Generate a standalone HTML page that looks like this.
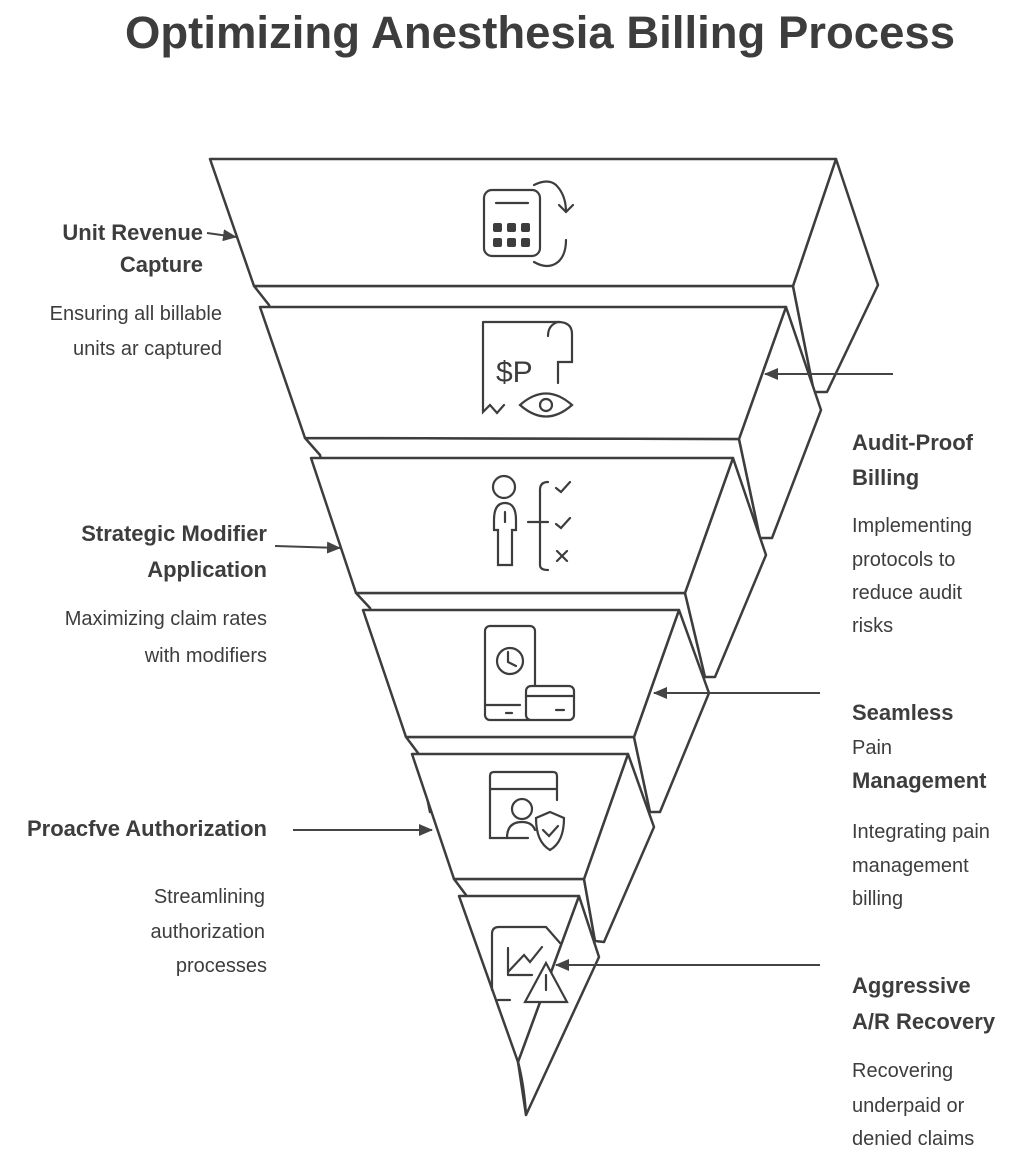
<!DOCTYPE html>
<html><head><meta charset="utf-8"><style>
body{margin:0;background:#fff;}
svg{display:block}
text{font-family:"Liberation Sans",sans-serif;fill:#3d3d3d}
.b{font-weight:bold;font-size:22px}
.n{font-size:20px}
</style></head><body>
<svg width="1024" height="1160" viewBox="0 0 1024 1160">
<defs><marker id="a" markerWidth="14" markerHeight="12" refX="13" refY="6" orient="auto" markerUnits="userSpaceOnUse"><path d="M0,0 L14,6 L0,12 z" fill="#444"/></marker></defs>
<text x="540" y="48" text-anchor="middle" font-size="45" font-weight="bold" fill="#444" textLength="830" lengthAdjust="spacingAndGlyphs">Optimizing Anesthesia Billing Process</text>
<g fill="#fff" stroke="#3d3d3d" stroke-width="2.5" stroke-linejoin="round">
<polygon points="254,286 793,286 814,392 300,392 269,305"/>
<polygon points="836,159 878,285 827,392 814,392 793,286"/>
<polygon points="210,159 836,159 793,286 254,286"/>
<polygon points="305,438 739,439 760,538 340,538 320,455"/>
<polygon points="786,307 821,410 772,538 760,538 739,439"/>
<polygon points="260,307 786,307 739,439 305,438"/>
<polygon points="356,593 685,593 705,677 390,677 370,608"/>
<polygon points="733,458 766,555 715,677 705,677 685,593"/>
<polygon points="311,458 733,458 685,593 356,593"/>
<polygon points="406,737 634,737 650,812 430,812 418,753"/>
<polygon points="679,610 709,693 660,812 650,812 634,737"/>
<polygon points="363,610 679,610 634,737 406,737"/>
<polygon points="454,879 584,879 595,941 480,941 466,895"/>
<polygon points="628,754 654,827 604,942 595,941 584,879"/>
<polygon points="412,754 628,754 584,879 454,879"/>
<polygon points="579,896 599,957 526,1115 518,1062"/>
<polygon points="459,896 579,896 518,1062"/>
<path d="M518,1062 Q524,1085 526,1115" fill="none"/>
</g>
<g stroke="#444" stroke-width="2" fill="none" marker-end="url(#a)">
<line x1="207" y1="233" x2="236" y2="237"/>
<line x1="893" y1="374" x2="765" y2="374"/>
<line x1="275" y1="546" x2="340" y2="548"/>
<line x1="820" y1="693" x2="654" y2="693"/>
<line x1="293" y1="830" x2="432" y2="830"/>
<line x1="820" y1="965" x2="556" y2="965"/>
</g>
<g fill="#3d3d3d">
<rect x="493" y="223" width="9" height="9" rx="2"/><rect x="507" y="223" width="9" height="9" rx="2"/><rect x="521" y="223" width="9" height="9" rx="2"/>
<rect x="493" y="238" width="9" height="9" rx="2"/><rect x="507" y="238" width="9" height="9" rx="2"/><rect x="521" y="238" width="9" height="9" rx="2"/>
</g>
<g stroke="#3d3d3d" stroke-width="2.2" fill="none" stroke-linecap="round">
<rect x="484" y="190" width="56" height="66" rx="8"/>
<line x1="496" y1="203" x2="528" y2="203"/>
<path d="M534,185 Q548,178 556,185 Q566,195 566,212 M559,205 L566,212 L573,205"/>
<path d="M534,262 Q548,270 558,262 Q566,255 566,240"/>
<path d="M483,322 V412 L490,405 L497,413 L504,405 M483,322 H560"/>
<path d="M558,322 Q572,322 572,334 V362 H558 V383 M558,322 Q548,325 548,336"/>
<text x="496" y="382" font-size="30" stroke="none" fill="#3d3d3d">$P</text>
<path d="M520,405 Q546,382 572,405 Q546,428 520,405 z"/><circle cx="546" cy="405" r="6"/>
<circle cx="504" cy="487" r="11"/>
<path d="M494,520 Q494,503 505,503 Q516,503 516,520 V530 H512 V565 H498 V530 H494 z"/>
<line x1="505" y1="512" x2="505" y2="522"/>
<path d="M548,482 Q540,482 540,490 V565 Q540,570 548,570 M528,522 H548"/>
<path d="M556,488 L561,492 L570,482 M556,524 L561,528 L570,518 M557,551 L567,561 M567,551 L557,561"/>
<rect x="485" y="626" width="50" height="94" rx="5"/>
<line x1="486" y1="705" x2="520" y2="705"/><line x1="506" y1="713" x2="512" y2="713"/>
<circle cx="510" cy="661" r="13"/><path d="M508,652 V662 L516,666"/>
<rect x="526" y="686" width="48" height="34" rx="5" fill="#fff"/>
<line x1="526" y1="696" x2="574" y2="696"/><line x1="556" y1="710" x2="564" y2="710"/>
<path d="M490,820 V776 Q490,772 494,772 H553 Q557,772 557,776 V800 M490,789 H557 M490,820 V838 H528"/>
<circle cx="522" cy="809" r="10"/><path d="M507,838 Q507,822 522,822 Q532,822 535,830"/>
<path d="M550,812 L564,818 Q564,842 550,850 Q536,842 536,818 z" fill="#fff"/>
<path d="M543,830 L549,836 L558,826"/>
<path d="M492,990 V934 Q492,927 499,927 H546 L560,943 M508,975 V948 M508,975 H532 M508,972 L524,955 L530,962 L542,947"/>
<path d="M498,1000 H510"/>
<path d="M546,963 L567,1002 H525 z" fill="#fff"/><line x1="546" y1="975" x2="546" y2="990"/>
</g>
<text class="b" x="203" y="240" text-anchor="end">Unit Revenue</text>
<text class="b" x="203" y="272" text-anchor="end">Capture</text>
<text class="n" x="222" y="320" text-anchor="end">Ensuring all billable</text>
<text class="n" x="222" y="355" text-anchor="end">units ar captured</text>
<text class="b" x="267" y="541" text-anchor="end">Strategic Modifier</text>
<text class="b" x="267" y="577" text-anchor="end">Application</text>
<text class="n" x="267" y="625" text-anchor="end">Maximizing claim rates</text>
<text class="n" x="267" y="662" text-anchor="end">with modifiers</text>
<text class="b" x="267" y="836" text-anchor="end">Proacfve Authorization</text>
<text class="n" x="265" y="903" text-anchor="end">Streamlining</text>
<text class="n" x="265" y="938" text-anchor="end">authorization</text>
<text class="n" x="267" y="972" text-anchor="end">processes</text>
<text class="b" x="852" y="450">Audit-Proof</text>
<text class="b" x="852" y="485">Billing</text>
<text class="n" x="852" y="532">Implementing</text>
<text class="n" x="852" y="566">protocols to</text>
<text class="n" x="852" y="599">reduce audit</text>
<text class="n" x="852" y="632">risks</text>
<text class="b" x="852" y="720">Seamless</text>
<text class="n" x="852" y="754" font-size="22">Pain</text>
<text class="b" x="852" y="788">Management</text>
<text class="n" x="852" y="838">Integrating pain</text>
<text class="n" x="852" y="872">management</text>
<text class="n" x="852" y="905">billing</text>
<text class="b" x="852" y="993">Aggressive</text>
<text class="b" x="852" y="1029">A/R Recovery</text>
<text class="n" x="852" y="1077">Recovering</text>
<text class="n" x="852" y="1112">underpaid or</text>
<text class="n" x="852" y="1145">denied claims</text>
</svg>
</body></html>
